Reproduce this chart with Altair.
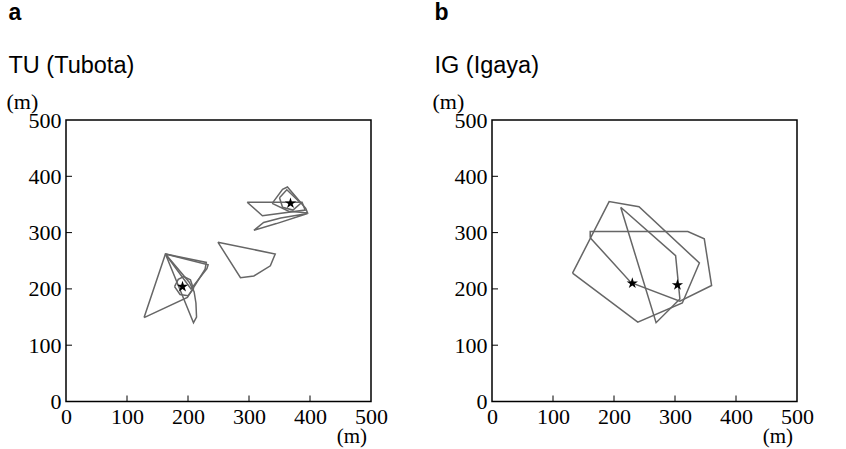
import altair as alt
import pandas as pd

# ---- home-range outlines, coordinates in metres ----
# Tubota (TU)
tu_r1_x = [128, 163, 230, 228, 199]
tu_r1_y = [149, 262, 247, 235, 185]
tu_r2_x = [163, 233, 231, 205]
tu_r2_y = [262, 243, 236, 200]
tu_r3_x = [163, 209, 214, 213, 210, 202]
tu_r3_y = [262, 140, 150, 175, 195, 212]
tu_r4_x = [178, 184, 193, 204, 209, 200, 187]
tu_r4_y = [204, 217, 222, 216, 200, 188, 190]
tu_r5_x = [249, 343, 335, 308, 286]
tu_r5_y = [283, 262, 241, 223, 220]
tu_r6_x = [297, 387, 392, 322]
tu_r6_y = [354, 354, 340, 330]
tu_r7_x = [308, 345, 396, 352, 324]
tu_r7_y = [304, 316, 334, 326, 318]
tu_r8_x = [338, 355, 363, 393, 396, 365]
tu_r8_y = [352, 377, 381, 343, 335, 338]
tu_r9_x = [350, 362, 385, 372, 355]
tu_r9_y = [362, 376, 352, 340, 345]
tu_nest_x = [191, 368]
tu_nest_y = [204, 352]

# Igaya (IG)
ig_r1_x = [132, 192, 241, 340, 312, 239]
ig_r1_y = [228, 355, 346, 246, 175, 141]
ig_r2_x = [161, 161, 321, 348, 360, 308, 228]
ig_r2_y = [291, 302, 302, 289, 206, 178, 211]
ig_r3_x = [211, 301, 308, 269]
ig_r3_y = [345, 259, 182, 140]
ig_nest_x = [230, 304]
ig_nest_y = [210, 207]

axis_values = [0, 100, 200, 300, 400, 500]
inner_ticks = [100, 200, 300, 400]

W, H = 305, 281.5
LINE_GREY = "#666666"
SERIF = "Liberation Serif"
SANS = "Liberation Sans"
STAR = ("M0,-1L0.2245,-0.309L0.9511,-0.309L0.3633,0.118L0.5878,0.809"
        "L0,0.382L-0.5878,0.809L-0.3633,0.118L-0.9511,-0.309L-0.2245,-0.309Z")

x_axis = alt.Axis(values=axis_values, title=None, grid=False, domain=False,
                  ticks=False, labelFont=SERIF, labelFontSize=22,
                  labelColor="black", labelPadding=5, labelFlush=False,
                  labelOverlap=False)
y_axis = alt.Axis(values=axis_values, title=None, grid=False, domain=False,
                  ticks=False, labelFont=SERIF, labelFontSize=22,
                  labelColor="black", labelPadding=5, labelFlush=False,
                  labelOverlap=False)
x_enc = alt.X("x:Q", scale=alt.Scale(domain=[0, 500], nice=False, zero=False),
              axis=x_axis)
y_enc = alt.Y("y:Q", scale=alt.Scale(domain=[0, 500], nice=False, zero=False),
              axis=y_axis)


def rings_frame(rings):
    rows = []
    for rid, (xs, ys) in enumerate(rings):
        pts = list(zip(xs, ys)) + [(xs[0], ys[0])]
        for k, (x, y) in enumerate(pts):
            rows.append({"ring": rid, "k": k, "x": x, "y": y})
    return pd.DataFrame(rows)


def label(text, x, y, font, size, weight="normal", align="left"):
    return alt.Chart(pd.DataFrame({"t": [text]})).mark_text(
        align=align, baseline="alphabetic", font=font, fontSize=size,
        fontWeight=weight, color="black",
    ).encode(text="t:N", x=alt.value(x), y=alt.value(y))


def panel(rings, nest_x, nest_y, letter, site):
    outlines = alt.Chart(rings_frame(rings)).mark_line(
        color=LINE_GREY, strokeWidth=1.5
    ).encode(x=x_enc, y=y_enc, detail="ring:N", order="k:Q")

    nests = alt.Chart(pd.DataFrame({"x": nest_x, "y": nest_y})).mark_point(
        shape=STAR, filled=True, color="black", opacity=1, size=140
    ).encode(x=x_enc, y=y_enc)

    xt = alt.Chart(pd.DataFrame({"x": inner_ticks})).mark_rule(
        color="black", strokeWidth=1
    ).encode(x=x_enc, y=alt.value(H), y2=alt.value(H - 6))
    yt = alt.Chart(pd.DataFrame({"y": inner_ticks})).mark_rule(
        color="black", strokeWidth=1
    ).encode(y=y_enc, x=alt.value(0), x2=alt.value(6))

    texts = [
        label(letter, -57.5, -100.5, SANS, 23, weight="bold"),
        label(site, -57.5, -47, SANS, 23.5),
        label("(m)", -59.5, -11, SERIF, 22),
        label("(m)", W - 4, 323, SERIF, 21, align="right"),
    ]
    return alt.layer(outlines, xt, yt, nests, *texts).properties(width=W, height=H)


tu = panel([(tu_r1_x, tu_r1_y), (tu_r2_x, tu_r2_y), (tu_r3_x, tu_r3_y),
            (tu_r4_x, tu_r4_y), (tu_r5_x, tu_r5_y), (tu_r6_x, tu_r6_y),
            (tu_r7_x, tu_r7_y), (tu_r8_x, tu_r8_y), (tu_r9_x, tu_r9_y)],
           tu_nest_x, tu_nest_y, "a", "TU (Tubota)")
ig = panel([(ig_r1_x, ig_r1_y), (ig_r2_x, ig_r2_y), (ig_r3_x, ig_r3_y)],
           ig_nest_x, ig_nest_y, "b", "IG (Igaya)")

chart = alt.hconcat(tu, ig, spacing=42).properties(
    padding={"left": 5, "top": 0, "right": 0, "bottom": 0},
    background="white",
).configure_view(stroke="black", strokeWidth=1.5)

chart.save("out.html", embed_options={"renderer": "svg", "actions": False})
